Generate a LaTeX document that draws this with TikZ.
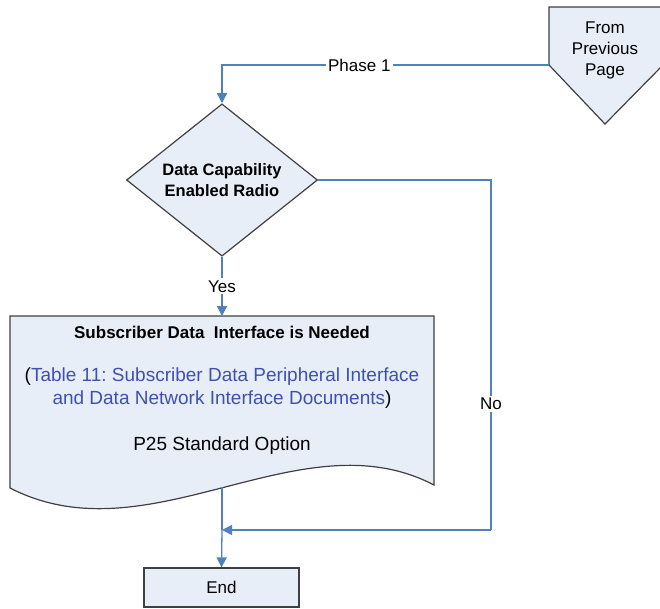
\documentclass[tikz,border=0pt]{standalone}
\usepackage{fontspec}
\setmainfont{Liberation Sans}
\usepackage{tikz}
\usetikzlibrary{shapes,arrows,positioning,calc,arrows.meta}
\frenchspacing

\definecolor{flowblue}{HTML}{4F81BD}
\definecolor{boxfill}{HTML}{E8EEF8}
\definecolor{linktext}{HTML}{3F51B0}
\definecolor{boxline}{HTML}{404040}

\begin{document}
\begin{tikzpicture}[x=1pt, y=-1pt, font=\fontsize{17}{21}\selectfont,
	flow/.style={draw=flowblue, line width=1.3pt, -{Triangle[length=10pt,width=10pt]}},
	plain/.style={draw=flowblue, line width=1.3pt},
	shapebox/.style={draw=boxline, fill=boxfill, line width=1.2pt},
	lbl/.style={fill=white, inner sep=2pt}]
	\useasboundingbox (0,0) rectangle (660,608);

	% off page connector
	\draw [shapebox] (549,7) -- (663,7) -- (663,65) -- (605,124) -- (549,65) -- cycle;
	\node [align=center] (prev) at (605,50) {From\\Previous\\Page};
	\coordinate (prevleft) at (549,65);

	\node [diamond, shapebox, minimum width=191, minimum height=134, inner sep=0, align=center, font=\fontsize{16.5}{21}\selectfont\bfseries] (radio) at (222,180) {Data Capability\\Enabled Radio};

	% document shape
	\draw [shapebox] (10,316) -- (434,316) -- (434,485) .. controls (300,415) and (150,560) .. (10,488) -- cycle;
	\coordinate (doctop) at (222,316);
	\coordinate (docbot) at (222,487);
	\node [font=\fontsize{17}{21}\selectfont\bfseries] (needed) at (222,332) {Subscriber Data\ \ Interface is Needed};
	\node [align=center, font=\fontsize{19}{23}\selectfont] (table) at (222,388) {(\textcolor{linktext}{Table 11: Subscriber Data Peripheral Interface}\\\textcolor{linktext}{and Data Network Interface Documents})};
	\node [font=\fontsize{19}{23}\selectfont] (option) at (222,446) {P25 Standard Option};

	\node [shapebox, minimum width=155, minimum height=39] (end) at (221.5,587.5) {End};
	\coordinate (join) at (222,530);
	\coordinate (nocorner) at (491,530);

	\draw [flow] (prevleft) -| (radio.north) node [lbl, pos=0.29] {Phase 1};
	\draw [flow] (radio.south) -- (doctop) node [lbl, midway] {Yes};
	\draw [plain] (radio.east) -| (nocorner) node [lbl, pos=0.82] {No};
	\draw [flow] (nocorner) -- (join);
	\draw [plain] (docbot) -- (join);
	\draw [flow] (join) -- (end.north);
\end{tikzpicture}
\end{document}
